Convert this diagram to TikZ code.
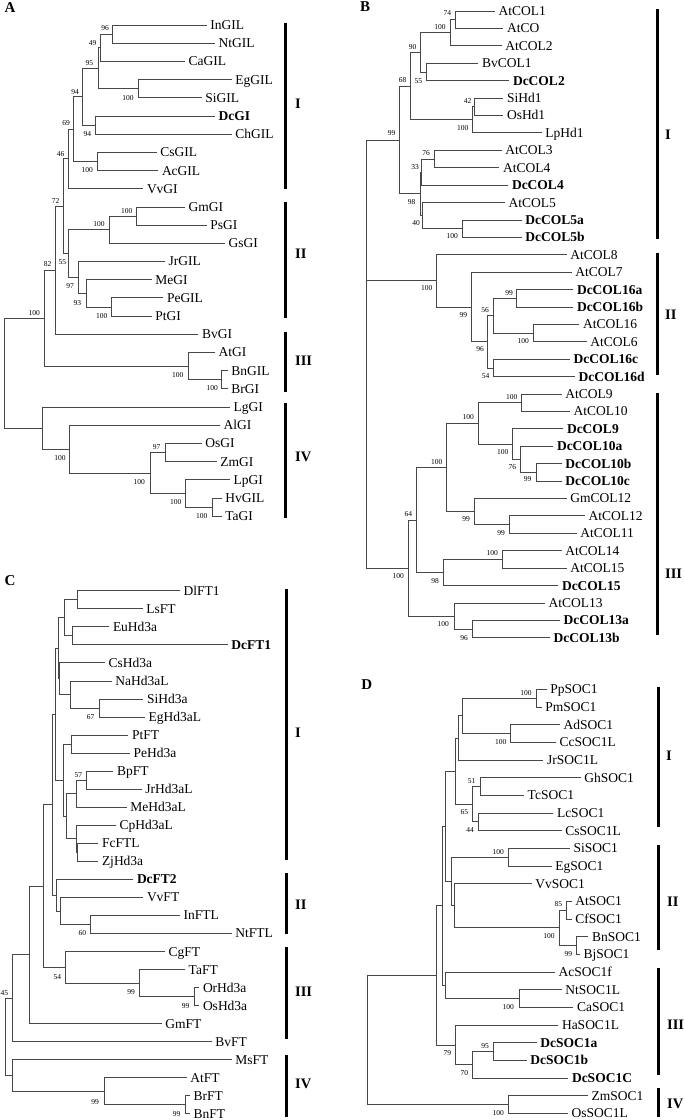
\documentclass[tikz,border=0pt]{standalone}
\usepackage{fontspec}
\setmainfont{Liberation Serif}
\usetikzlibrary{calc}
\newcount\bsc
\tikzset{
 leaf/.style={anchor=west, inner sep=0pt, inner xsep=3.5pt, text height=9pt, text depth=0pt, font=\fontsize{13.5}{14}\selectfont},
 leafbold/.style={leaf, font=\fontsize{13.5}{14}\selectfont\bfseries},
 bsn/.style={inner sep=0pt, font=\fontsize{7.5}{8}\selectfont},
 br/.style={draw=black!72, line width=0.8pt},
 bar/.style={draw=black, line width=3pt},
 roman/.style={anchor=west, inner sep=0pt, text depth=0pt, font=\fontsize{14.5}{15}\selectfont\bfseries},
 plab/.style={inner sep=0pt, font=\fontsize{15}{16}\selectfont\bfseries},
}
\newcommand\leafn[4]{\node[leaf] (#1) at (#2,{\Ys+\Yd*#3}) {#4};}
\newcommand\leafb[4]{\node[leafbold] (#1) at (#2,{\Ys+\Yd*#3}) {#4};}
\newcommand\inode[4]{%
  \coordinate (tmp) at ($(#3)!0.5!(#4)$);
  \coordinate (#1) at (#2,0 |- tmp);
  \draw[br] (#3) -- (#3 -| #1) -- (#4 -| #1) -- (#4);}
\newcommand\bsv[2]{\global\advance\bsc by 1\relax
  \edef\bsname{bs\the\bsc}\node[bsn] (\bsname) at (#1) {#2};}
\newcommand\cbar[7]{%
  \coordinate (#1t) at (#2,#3); \coordinate (#1b) at (#2,#4);
  \draw[bar] (#1t) -- (#1b);
  \node[roman] (#1l) at (#5,#6) {#7};}
\begin{document}
\begin{tikzpicture}[x=1pt,y=-1pt]
\fill[white] (0,0) rectangle (685,1120);
\path[use as bounding box] (0,0) rectangle (685,1120);
% ================= Panel A =================
\node[plab] (pA) at (10,7.3) {A};
\def\Ys{25}\def\Yd{18.19}
\leafn{aInGIL}{206.7}{0}{InGIL}
\leafn{aNtGIL}{215}{1}{NtGIL}
\leafn{aCaGIL}{185}{2}{CaGIL}
\leafn{aEgGIL}{231.7}{3}{EgGIL}
\leafn{aSiGIL}{201.7}{4}{SiGIL}
\leafb{aDcGI}{215}{5}{DcGI}
\leafn{aChGIL}{231.7}{6}{ChGIL}
\leafn{aCsGIL}{156.7}{7}{CsGIL}
\leafn{aAcGIL}{158.3}{8}{AcGIL}
\leafn{aVvGI}{143.3}{9}{VvGI}
\leafn{aGmGI}{185}{10}{GmGI}
\leafn{aPsGI}{206.7}{11}{PsGI}
\leafn{aGsGI}{225}{12}{GsGI}
\leafn{aJrGIL}{165}{13}{JrGIL}
\leafn{aMeGI}{151.7}{14}{MeGI}
\leafn{aPeGIL}{163.3}{15}{PeGIL}
\leafn{aPtGI}{151.7}{16}{PtGI}
\leafn{aBvGI}{198.3}{17}{BvGI}
\leafn{aAtGI}{215}{18}{AtGI}
\leafn{aBnGIL}{227.7}{19}{BnGIL}
\leafn{aBrGI}{227.7}{20}{BrGI}
\leafn{aLgGI}{230}{21}{LgGI}
\leafn{aAlGI}{220}{22}{AlGI}
\leafn{aOsGI}{201.7}{23}{OsGI}
\leafn{aZmGI}{216.7}{24}{ZmGI}
\leafn{aLpGI}{230}{25}{LpGI}
\leafn{aHvGIL}{221.7}{26}{HvGIL}
\leafn{aTaGI}{221.7}{27}{TaGI}
\inode{a96}{112.7}{aInGIL}{aNtGIL}
\inode{a49}{100}{a96}{aCaGIL}
\inode{a100a}{138.3}{aEgGIL}{aSiGIL}
\inode{a95}{98.3}{a49}{a100a}
\inode{a94b}{95.7}{aDcGI}{aChGIL}
\inode{a94a}{82.3}{a95}{a94b}
\inode{a100b}{97.3}{aCsGIL}{aAcGIL}
\inode{a69}{73.3}{a94a}{a100b}
\inode{a46}{68.3}{a69}{aVvGI}
\inode{a100c}{136.7}{aGmGI}{aPsGI}
\inode{a100d}{109}{a100c}{aGsGI}
\inode{a100e}{111.7}{aPeGIL}{aPtGI}
\inode{a93}{86}{aMeGI}{a100e}
\inode{a97}{78.3}{aJrGIL}{a93}
\inode{a55}{68.3}{a100d}{a97}
\inode{a72}{63.3}{a46}{a55}
\inode{a82}{55}{a72}{aBvGI}
\inode{a100f}{221.7}{aBnGIL}{aBrGI}
\inode{a100g}{188.3}{aAtGI}{a100f}
\inode{a100h}{44.3}{a82}{a100g}
\inode{a97b}{165}{aOsGI}{aZmGI}
\inode{a100i}{212.3}{aHvGIL}{aTaGI}
\inode{a100j}{185.7}{aLpGI}{a100i}
\inode{a100k}{150}{a97b}{a100j}
\inode{a100l}{69.3}{aAlGI}{a100k}
\inode{a4}{42.3}{aLgGI}{a100l}
\inode{aroot}{4.3}{a100h}{a4}
\bsv{105,28.3}{96}
\bsv{92.7,42.7}{49}
\bsv{128,97.7}{100}
\bsv{89.3,63.3}{95}
\bsv{87.3,134}{94}
\bsv{75,91.7}{94}
\bsv{87.3,170}{100}
\bsv{66,123.3}{69}
\bsv{60.7,154}{46}
\bsv{126.7,210.7}{100}
\bsv{99,224}{100}
\bsv{101.7,315.7}{100}
\bsv{77.3,303.3}{93}
\bsv{70,286}{97}
\bsv{62.3,262.3}{55}
\bsv{55.7,201}{72}
\bsv{47.7,264.3}{82}
\bsv{212.3,388.3}{100}
\bsv{177.7,375}{100}
\bsv{34.3,312.7}{100}
\bsv{156.7,447.3}{97}
\bsv{201.7,516}{100}
\bsv{175.7,501.7}{100}
\bsv{139.3,481.7}{100}
\bsv{60,457.7}{100}
\cbar{aI}{285.7}{22.7}{189.3}{295}{104}{I}
\cbar{aII}{285.7}{202.3}{318.3}{295}{254}{II}
\cbar{aIII}{285.7}{331.7}{391.7}{295}{360.7}{III}
\cbar{aIV}{285.7}{403.3}{518.3}{295}{456.7}{IV}
% ================= Panel B =================
\node[plab] (pB) at (365,6.7) {B};
\def\Ys{11}\def\Yd{17.41}
\leafn{bAtCOL1}{495}{0}{AtCOL1}
\leafn{bAtCO}{503.3}{1}{AtCO}
\leafn{bAtCOL2}{501.7}{2}{AtCOL2}
\leafn{bBvCOL1}{478.3}{3}{BvCOL1}
\leafb{bDcCOL2}{509.3}{4}{DcCOL2}
\leafn{bSiHd1}{503.3}{5}{SiHd1}
\leafn{bOsHd1}{503.3}{6}{OsHd1}
\leafn{bLpHd1}{541.7}{7}{LpHd1}
\leafn{bAtCOL3}{501.7}{8}{AtCOL3}
\leafn{bAtCOL4}{499.3}{9}{AtCOL4}
\leafb{bDcCOL4}{508.3}{10}{DcCOL4}
\leafn{bAtCOL5}{505}{11}{AtCOL5}
\leafb{bDcCOL5a}{521.7}{12}{DcCOL5a}
\leafb{bDcCOL5b}{521.7}{13}{DcCOL5b}
\leafn{bAtCOL8}{566.7}{14}{AtCOL8}
\leafn{bAtCOL7}{571.7}{15}{AtCOL7}
\leafb{bDcCOL16a}{573.3}{16}{DcCOL16a}
\leafb{bDcCOL16b}{573.3}{17}{DcCOL16b}
\leafn{bAtCOL16}{579.3}{18}{AtCOL16}
\leafn{bAtCOL6}{586.7}{19}{AtCOL6}
\leafb{bDcCOL16c}{570}{20}{DcCOL16c}
\leafb{bDcCOL16d}{575}{21}{DcCOL16d}
\leafn{bAtCOL9}{561.7}{22}{AtCOL9}
\leafn{bAtCOL10}{570}{23}{AtCOL10}
\leafb{bDcCOL9}{563.3}{24}{DcCOL9}
\leafb{bDcCOL10a}{553.3}{25}{DcCOL10a}
\leafb{bDcCOL10b}{561.7}{26}{DcCOL10b}
\leafb{bDcCOL10c}{561.7}{27}{DcCOL10c}
\leafn{bGmCOL12}{566.7}{28}{GmCOL12}
\leafn{bAtCOL12}{585}{29}{AtCOL12}
\leafn{bAtCOL11}{576.7}{30}{AtCOL11}
\leafn{bAtCOL14}{561.7}{31}{AtCOL14}
\leafn{bAtCOL15}{566.7}{32}{AtCOL15}
\leafb{bDcCOL15}{558.3}{33}{DcCOL15}
\leafn{bAtCOL13}{545}{34}{AtCOL13}
\leafb{bDcCOL13a}{560}{35}{DcCOL13a}
\leafb{bDcCOL13b}{550}{36}{DcCOL13b}
\inode{b74}{455.7}{bAtCOL1}{bAtCO}
\inode{b100a}{450}{b74}{bAtCOL2}
\inode{b55}{426}{bBvCOL1}{bDcCOL2}
\inode{b90}{420}{b100a}{b55}
\inode{b42}{474}{bSiHd1}{bOsHd1}
\inode{b100b}{472}{b42}{bLpHd1}
\inode{b68}{410}{b90}{b100b}
\inode{b76}{434.3}{bAtCOL3}{bAtCOL4}
\inode{b33}{421.7}{b76}{bDcCOL4}
\inode{b100c}{462.3}{bDcCOL5a}{bDcCOL5b}
\inode{b40}{422.7}{bAtCOL5}{b100c}
\inode{b98}{420}{b33}{b40}
\inode{b99}{399.3}{b68}{b98}
\inode{b99c}{516.7}{bDcCOL16a}{bDcCOL16b}
\inode{b100d}{533.3}{bAtCOL16}{bAtCOL6}
\inode{b56}{493.3}{b99c}{b100d}
\inode{b54}{493.3}{bDcCOL16c}{bDcCOL16d}
\inode{b96}{487.7}{b56}{b54}
\inode{b99II}{471.7}{bAtCOL7}{b96}
\inode{b100II}{436.7}{bAtCOL8}{b99II}
\inode{b100e}{521.7}{bAtCOL9}{bAtCOL10}
\inode{b99d}{536}{bDcCOL10b}{bDcCOL10c}
\inode{b76b}{520}{bDcCOL10a}{b99d}
\inode{b100f}{512.3}{bDcCOL9}{b76b}
\inode{b100g}{478.3}{b100e}{b100f}
\inode{b99e}{509.3}{bAtCOL12}{bAtCOL11}
\inode{b99f}{474}{bGmCOL12}{b99e}
\inode{b100h}{446}{b100g}{b99f}
\inode{b100i}{502.7}{bAtCOL14}{bAtCOL15}
\inode{b98b}{443.3}{b100i}{bDcCOL15}
\inode{b64}{416.7}{b100h}{b98b}
\inode{b96b}{472.7}{bDcCOL13a}{bDcCOL13b}
\inode{b100j}{454}{bAtCOL13}{b96b}
\inode{b100k}{408.3}{b64}{b100j}
\coordinate (broot) at (366.7,0);
\draw[br] (b99) -- (b99 -| broot) -- (b100k -| broot) -- (b100k);
\draw[br] (b100II) -- (b100II -| broot);
\bsv{447.3,13.3}{74}
\bsv{440,27.3}{100}
\bsv{418.3,80.7}{55}
\bsv{412.7,46.7}{90}
\bsv{467.7,101}{42}
\bsv{462.7,128.3}{100}
\bsv{402.7,80}{68}
\bsv{426,152.7}{76}
\bsv{415,166.7}{33}
\bsv{452.3,236}{100}
\bsv{416,223.3}{40}
\bsv{411.7,201.7}{98}
\bsv{391.7,133.3}{99}
\bsv{509,292.7}{99}
\bsv{523.3,340.7}{100}
\bsv{485,310}{56}
\bsv{485.7,376}{54}
\bsv{480,349.3}{96}
\bsv{463.3,315}{99}
\bsv{426.7,288.3}{100}
\bsv{511.7,396.7}{100}
\bsv{527.7,479.3}{99}
\bsv{512.3,467.3}{76}
\bsv{502.7,451.7}{100}
\bsv{468.3,417.3}{100}
\bsv{501,532.7}{99}
\bsv{466,519.3}{99}
\bsv{436.7,461.7}{100}
\bsv{492.3,553.3}{100}
\bsv{435,580.7}{98}
\bsv{408.3,514.3}{64}
\bsv{464,637.7}{96}
\bsv{443.3,624}{100}
\bsv{398.3,576}{100}
\cbar{bI}{657.3}{9.3}{239.3}{665}{135}{I}
\cbar{bII}{657.3}{252.7}{375}{665}{315}{II}
\cbar{bIII}{657.3}{392.7}{635}{665}{574}{III}
% ================= Panel C =================
\node[plab] (pC) at (10,580.7) {C};
\def\Ys{590.7}\def\Yd{18.04}
\leafn{cDlFT1}{180}{0}{DlFT1}
\leafn{cLsFT}{142.7}{1}{LsFT}
\leafn{cEuHd3a}{109.3}{2}{EuHd3a}
\leafb{cDcFT1}{227.7}{3}{DcFT1}
\leafn{cCsHd3a}{105}{4}{CsHd3a}
\leafn{cNaHd3aL}{111.7}{5}{NaHd3aL}
\leafn{cSiHd3a}{143.3}{6}{SiHd3a}
\leafn{cEgHd3aL}{145}{7}{EgHd3aL}
\leafn{cPtFT}{128.3}{8}{PtFT}
\leafn{cPeHd3a}{130}{9}{PeHd3a}
\leafn{cBpFT}{113.3}{10}{BpFT}
\leafn{cJrHd3aL}{141.7}{11}{JrHd3aL}
\leafn{cMeHd3aL}{126.7}{12}{MeHd3aL}
\leafn{cCpHd3aL}{116}{13}{CpHd3aL}
\leafn{cFcFTL}{98.3}{14}{FcFTL}
\leafn{cZjHd3a}{98.3}{15}{ZjHd3a}
\leafb{cDcFT2}{133.3}{16}{DcFT2}
\leafn{cVvFT}{143.3}{17}{VvFT}
\leafn{cInFTL}{180}{18}{InFTL}
\leafn{cNtFTL}{231.7}{19}{NtFTL}
\leafn{cCgFT}{165}{20}{CgFT}
\leafn{cTaFT}{185}{21}{TaFT}
\leafn{cOrHd3a}{199.3}{22}{OrHd3a}
\leafn{cOsHd3a}{199.3}{23}{OsHd3a}
\leafn{cGmFT}{161.7}{24}{GmFT}
\leafn{cBvFT}{211.7}{25}{BvFT}
\leafn{cMsFT}{231.7}{26}{MsFT}
\leafn{cAtFT}{186.7}{27}{AtFT}
\leafn{cBrFT}{190}{28}{BrFT}
\leafn{cBnFT}{190}{29}{BnFT}
\inode{cDl}{77.3}{cDlFT1}{cLsFT}
\inode{cEu}{72.7}{cEuHd3a}{cDcFT1}
\inode{cA}{64}{cDl}{cEu}
\inode{c67}{99.3}{cSiHd3a}{cEgHd3aL}
\inode{cNa}{70}{cNaHd3aL}{c67}
\inode{cCs}{59.3}{cCsHd3a}{cNa}
\inode{cB}{58}{cA}{cCs}
\inode{cPt}{71.7}{cPtFT}{cPeHd3a}
\inode{c57}{86}{cBpFT}{cJrHd3aL}
\inode{cMe}{76}{c57}{cMeHd3aL}
\inode{cZj}{77.7}{cFcFTL}{cZjHd3a}
\inode{cCp}{76.7}{cCpHd3aL}{cZj}
\inode{cD}{66.7}{cMe}{cCp}
\inode{cE}{63.3}{cPt}{cD}
\inode{cF}{55}{cB}{cE}
\inode{c60}{90.7}{cInFTL}{cNtFTL}
\inode{cVv}{60}{cVvFT}{c60}
\inode{cDc2}{56}{cDcFT2}{cVv}
\inode{cG}{52.5}{cF}{cDc2}
\inode{c99b}{194}{cOrHd3a}{cOsHd3a}
\inode{c99a}{139.3}{cTaFT}{c99b}
\inode{c54}{65.7}{cCgFT}{c99a}
\inode{cH}{43.3}{cG}{c54}
\inode{cI}{29.3}{cH}{cGmFT}
\inode{c45}{12.7}{cI}{cBvFT}
\inode{c99c}{185}{cBrFT}{cBnFT}
\inode{c99d}{104}{cAtFT}{c99c}
\inode{cIV}{12.7}{cMsFT}{c99d}
\inode{croot}{5}{c45}{cIV}
\bsv{90.7,716.7}{67}
\bsv{78.3,775}{57}
\bsv{82.3,933.3}{60}
\bsv{185.7,1006}{99}
\bsv{131,992.3}{99}
\bsv{57.3,976.7}{54}
\bsv{4.5,992.7}{45}
\bsv{176.7,1114}{99}
\bsv{95,1101.7}{99}
\cbar{cI}{286}{589.3}{860}{295}{732.7}{I}
\cbar{cII}{286}{872.7}{934}{295}{904.3}{II}
\cbar{cIII}{286}{947.3}{1039}{295}{991.7}{III}
\cbar{cIV}{286}{1055}{1116.7}{295}{1084}{IV}
% ================= Panel D =================
\node[plab] (pD) at (366.7,685) {D};
\def\Ys{689.3}\def\Yd{17.67}
\leafn{dPpSOC1}{546.7}{0}{PpSOC1}
\leafn{dPmSOC1}{541.7}{1}{PmSOC1}
\leafn{dAdSOC1}{560}{2}{AdSOC1}
\leafn{dCcSOC1L}{556}{3}{CcSOC1L}
\leafn{dJrSOC1L}{543.3}{4}{JrSOC1L}
\leafn{dGhSOC1}{580.7}{5}{GhSOC1}
\leafn{dTcSOC1}{524}{6}{TcSOC1}
\leafn{dLcSOC1}{553.3}{7}{LcSOC1}
\leafn{dCsSOC1L}{561.7}{8}{CsSOC1L}
\leafn{dSiSOC1}{570}{9}{SiSOC1}
\leafn{dEgSOC1}{551.7}{10}{EgSOC1}
\leafn{dVvSOC1}{531.7}{11}{VvSOC1}
\leafn{dAtSOC1}{571.7}{12}{AtSOC1}
\leafn{dCfSOC1}{571.7}{13}{CfSOC1}
\leafn{dBnSOC1}{588.3}{14}{BnSOC1}
\leafn{dBjSOC1}{580}{15}{BjSOC1}
\leafn{dAcSOC1f}{555}{16}{AcSOC1f}
\leafn{dNtSOC1L}{561.7}{17}{NtSOC1L}
\leafn{dCaSOC1}{573.3}{18}{CaSOC1}
\leafn{dHaSOC1L}{558.3}{19}{HaSOC1L}
\leafb{dDcSOC1a}{536.7}{20}{DcSOC1a}
\leafb{dDcSOC1b}{526.7}{21}{DcSOC1b}
\leafb{dDcSOC1C}{568.3}{22}{DcSOC1C}
\leafn{dZmSOC1}{588}{23}{ZmSOC1}
\leafn{dOsSOC1L}{568}{24}{OsSOC1L}
\inode{d100a}{536}{dPpSOC1}{dPmSOC1}
\inode{d100b}{510.7}{dAdSOC1}{dCcSOC1L}
\inode{dPp}{462.7}{d100a}{d100b}
\inode{dJr}{458.3}{dPp}{dJrSOC1L}
\inode{d51}{480}{dGhSOC1}{dTcSOC1}
\inode{d44}{478.3}{dLcSOC1}{dCsSOC1L}
\inode{d65}{472.7}{d51}{d44}
\inode{dI}{455}{dJr}{d65}
\inode{d100c}{508.3}{dSiSOC1}{dEgSOC1}
\inode{d85}{566.7}{dAtSOC1}{dCfSOC1}
\inode{d99}{576.7}{dBnSOC1}{dBjSOC1}
\inode{d100d}{559.3}{d85}{d99}
\inode{dVv}{454}{dVvSOC1}{d100d}
\inode{dII}{451}{d100c}{dVv}
\inode{dI2}{445}{dI}{dII}
\inode{d100e}{519.3}{dNtSOC1L}{dCaSOC1}
\inode{dAc}{445}{dAcSOC1f}{d100e}
\inode{dK}{442.7}{dI2}{dAc}
\inode{d95}{493.3}{dDcSOC1a}{dDcSOC1b}
\inode{d70}{472.7}{d95}{dDcSOC1C}
\inode{d79}{455}{dHaSOC1L}{d70}
\inode{dL}{436.7}{dK}{d79}
\inode{d100f}{508.3}{dZmSOC1}{dOsSOC1L}
\inode{droot}{367.3}{dL}{d100f}
\bsv{526,692.7}{100}
\bsv{500.7,741.7}{100}
\bsv{471.7,781}{51}
\bsv{470,830}{44}
\bsv{464.3,812.3}{65}
\bsv{498.3,851.7}{100}
\bsv{558.3,904.3}{85}
\bsv{568.3,954.3}{99}
\bsv{549,936}{100}
\bsv{508.3,1006.7}{100}
\bsv{485,1046}{95}
\bsv{464.3,1073.3}{70}
\bsv{447.3,1053.3}{79}
\bsv{498.3,1112.7}{100}
\cbar{dI}{658.3}{686.7}{826.7}{666}{756}{I}
\cbar{dII}{658.3}{845}{950}{667}{901.7}{II}
\cbar{dIII}{658.3}{968.3}{1075}{667}{1025}{III}
\cbar{dIV}{658.3}{1088.3}{1116.7}{667}{1103.3}{IV}
\end{tikzpicture}
\end{document}
